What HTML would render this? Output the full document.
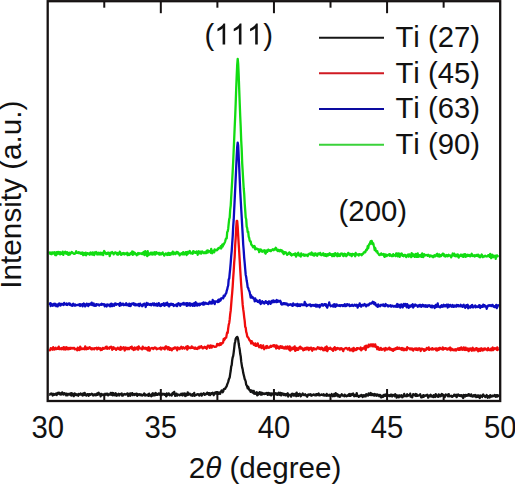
<!DOCTYPE html>
<html><head><meta charset="utf-8"><style>
html,body{margin:0;padding:0;background:#fff;}
body{width:515px;height:484px;overflow:hidden;}
svg{display:block;font-family:"Liberation Sans",sans-serif;font-kerning:none;}
text{font-size:29.3px;fill:#111;}
</style></head><body>
<svg width="515" height="484" viewBox="0 0 515 484">
<rect x="0" y="0" width="515" height="484" fill="#fff"/>
<polyline points="49.2,394.4 49.7,394.6 50.2,394.1 50.7,393.6 51.2,394.0 51.7,393.5 52.2,394.4 52.7,395.5 53.2,394.0 53.7,393.9 54.2,394.8 54.7,394.7 55.2,394.5 55.7,393.6 56.2,394.4 56.7,395.0 57.2,393.3 57.7,394.0 58.2,392.8 58.7,393.3 59.2,392.8 59.7,394.2 60.2,393.3 60.7,394.6 61.2,394.5 61.7,394.3 62.2,392.3 62.7,394.0 63.2,394.4 63.7,394.5 64.2,393.1 64.7,394.0 65.2,393.6 65.7,393.7 66.2,395.3 66.7,393.7 67.2,394.4 67.7,395.2 68.2,393.9 68.7,394.3 69.2,394.5 69.7,394.5 70.2,393.4 70.7,394.5 71.2,395.6 71.7,393.1 72.2,395.2 72.7,394.6 73.2,393.9 73.7,396.2 74.2,395.1 74.7,393.4 75.2,394.5 75.7,395.0 76.2,394.3 76.7,395.0 77.2,394.4 77.7,395.0 78.2,395.7 78.7,393.9 79.2,394.6 79.7,394.1 80.2,394.6 80.7,393.5 81.2,394.0 81.7,394.3 82.2,395.2 82.7,395.5 83.2,393.4 83.7,393.8 84.2,395.0 84.7,392.8 85.2,394.1 85.7,394.4 86.2,395.6 86.7,395.1 87.2,394.2 87.7,394.2 88.2,394.3 88.7,395.8 89.2,394.1 89.7,394.2 90.2,394.8 90.7,394.4 91.2,394.3 91.7,393.6 92.2,394.5 92.7,394.1 93.2,395.5 93.7,395.1 94.2,394.5 94.7,395.1 95.2,394.2 95.7,395.4 96.2,394.5 96.7,395.0 97.2,393.4 97.7,394.8 98.2,393.1 98.7,392.8 99.2,394.3 99.7,393.8 100.2,394.7 100.7,396.4 101.2,393.8 101.7,394.0 102.2,394.7 102.7,395.0 103.2,394.4 103.7,394.4 104.2,395.1 104.7,395.0 105.2,393.7 105.7,394.5 106.2,394.6 106.7,393.7 107.2,394.8 107.7,393.8 108.2,395.4 108.7,394.7 109.2,394.6 109.7,394.1 110.2,394.5 110.7,392.9 111.2,393.6 111.7,394.9 112.2,392.8 112.7,395.3 113.2,393.1 113.7,395.2 114.2,393.9 114.7,395.2 115.2,394.7 115.7,393.3 116.2,395.6 116.7,395.8 117.2,394.5 117.7,394.4 118.2,394.4 118.7,393.8 119.2,395.5 119.7,394.1 120.2,394.5 120.7,393.9 121.2,394.1 121.7,393.5 122.2,395.7 122.7,394.5 123.2,395.4 123.7,394.6 124.2,394.0 124.7,394.3 125.2,394.1 125.7,394.6 126.2,394.3 126.7,394.4 127.2,393.4 127.7,393.9 128.2,396.0 128.7,394.0 129.2,393.7 129.7,394.9 130.2,395.8 130.7,393.4 131.2,394.4 131.7,394.1 132.2,393.1 132.7,395.2 133.2,394.6 133.7,394.7 134.2,394.0 134.7,395.0 135.2,394.2 135.7,394.5 136.2,393.7 136.7,393.6 137.2,395.8 137.7,394.2 138.2,394.9 138.7,394.6 139.2,394.3 139.7,394.2 140.2,395.2 140.7,394.4 141.2,394.5 141.7,394.7 142.2,395.6 142.7,395.2 143.2,395.0 143.7,394.2 144.2,393.5 144.7,395.4 145.2,395.5 145.7,394.5 146.2,395.1 146.7,395.3 147.2,395.3 147.7,395.4 148.2,394.3 148.7,395.9 149.2,393.6 149.7,395.4 150.2,395.1 150.7,395.4 151.2,396.2 151.7,395.9 152.2,393.7 152.7,393.2 153.2,395.3 153.7,393.8 154.2,394.6 154.7,395.4 155.2,393.3 155.7,392.9 156.2,394.9 156.7,394.7 157.2,394.4 157.7,394.7 158.2,393.9 158.7,393.4 159.2,394.5 159.7,393.8 160.2,393.3 160.7,395.1 161.2,394.6 161.7,395.0 162.2,393.8 162.7,394.1 163.2,393.8 163.7,393.9 164.2,394.8 164.7,394.0 165.2,394.9 165.7,394.9 166.2,396.4 166.7,393.5 167.2,395.4 167.7,394.6 168.2,394.6 168.7,393.4 169.2,394.3 169.7,395.3 170.2,394.6 170.7,394.7 171.2,394.4 171.7,395.6 172.2,394.6 172.7,392.8 173.2,394.0 173.7,393.0 174.2,391.9 174.7,394.2 175.2,395.8 175.7,394.7 176.2,393.6 176.7,393.8 177.2,395.6 177.7,394.7 178.2,394.7 178.7,394.6 179.2,394.6 179.7,395.3 180.2,395.1 180.7,394.8 181.2,393.7 181.7,395.0 182.2,394.0 182.7,395.5 183.2,393.5 183.7,394.5 184.2,394.6 184.7,393.4 185.2,396.0 185.7,395.8 186.2,394.2 186.7,395.2 187.2,394.9 187.7,392.3 188.2,394.8 188.7,394.5 189.2,394.6 189.7,393.6 190.2,394.3 190.7,394.4 191.2,395.5 191.7,394.8 192.2,394.5 192.7,395.8 193.2,394.0 193.7,394.1 194.2,392.9 194.7,395.8 195.2,395.3 195.7,395.2 196.2,395.0 196.7,394.5 197.2,394.6 197.7,394.2 198.2,394.2 198.7,394.4 199.2,395.6 199.7,394.8 200.2,394.3 200.7,393.8 201.2,393.7 201.7,395.6 202.2,394.7 202.7,394.3 203.2,393.9 203.7,393.2 204.2,394.1 204.7,394.9 205.2,393.8 205.7,393.9 206.2,393.9 206.7,394.1 207.2,392.7 207.7,393.8 208.2,393.2 208.7,394.7 209.2,393.2 209.7,394.3 210.2,395.1 210.7,393.5 211.2,393.2 211.7,393.8 212.2,393.6 212.7,392.7 213.2,393.9 213.7,395.2 214.2,393.2 214.7,393.2 215.2,392.4 215.7,393.5 216.2,392.1 216.7,392.1 217.2,394.0 217.7,392.1 218.2,393.6 218.7,393.9 219.2,392.7 219.7,392.8 220.2,393.8 220.7,391.8 221.2,391.3 221.7,390.4 222.2,391.3 222.7,392.2 223.2,391.4 223.7,389.4 224.2,389.0 224.7,388.7 225.2,388.8 225.7,387.6 226.2,387.0 226.7,386.1 227.2,384.4 227.7,383.2 228.2,381.9 228.7,379.9 229.2,378.4 229.7,377.4 230.2,373.9 230.7,370.8 231.2,366.5 231.7,365.2 232.2,360.1 232.7,357.3 233.2,355.8 233.7,352.3 234.2,348.2 234.7,343.6 235.2,341.7 235.7,338.7 236.2,337.8 236.7,338.2 237.2,336.9 237.7,337.7 238.2,339.9 238.7,343.8 239.2,346.9 239.7,349.4 240.2,353.8 240.7,356.2 241.2,361.4 241.7,364.6 242.2,367.7 242.7,369.3 243.2,372.8 243.7,374.8 244.2,376.8 244.7,378.9 245.2,380.0 245.7,381.5 246.2,384.8 246.7,385.3 247.2,386.7 247.7,388.3 248.2,386.8 248.7,388.3 249.2,389.7 249.7,390.4 250.2,390.2 250.7,391.8 251.2,391.4 251.7,390.5 252.2,391.0 252.7,392.7 253.2,392.6 253.7,390.8 254.2,393.7 254.7,393.2 255.2,393.9 255.7,392.6 256.2,392.8 256.7,392.2 257.2,395.4 257.7,393.2 258.2,394.7 258.7,392.9 259.2,393.7 259.7,392.2 260.2,393.3 260.7,394.6 261.2,392.7 261.7,394.7 262.2,394.2 262.7,393.0 263.2,393.5 263.7,393.6 264.2,394.0 264.7,393.6 265.2,393.4 265.7,393.8 266.2,393.3 266.7,393.0 267.2,394.1 267.7,394.9 268.2,392.9 268.7,394.2 269.2,393.6 269.7,393.3 270.2,394.9 270.7,393.7 271.2,395.4 271.7,393.4 272.2,394.4 272.7,393.9 273.2,393.4 273.7,394.5 274.2,393.9 274.7,394.6 275.2,394.0 275.7,393.1 276.2,394.0 276.7,394.1 277.2,394.9 277.7,393.4 278.2,394.1 278.7,392.8 279.2,394.8 279.7,393.4 280.2,392.8 280.7,394.3 281.2,395.4 281.7,393.2 282.2,393.6 282.7,393.9 283.2,393.7 283.7,395.0 284.2,394.0 284.7,394.1 285.2,395.3 285.7,394.1 286.2,395.2 286.7,394.0 287.2,393.8 287.7,393.3 288.2,396.5 288.7,394.6 289.2,395.1 289.7,394.9 290.2,395.1 290.7,395.0 291.2,396.6 291.7,394.1 292.2,393.7 292.7,394.1 293.2,393.9 293.7,395.6 294.2,395.7 294.7,394.2 295.2,393.8 295.7,394.7 296.2,396.2 296.7,392.6 297.2,395.5 297.7,394.1 298.2,395.9 298.7,394.1 299.2,394.8 299.7,393.8 300.2,394.3 300.7,396.3 301.2,395.8 301.7,394.8 302.2,394.4 302.7,393.5 303.2,394.8 303.7,395.1 304.2,395.0 304.7,395.0 305.2,394.2 305.7,395.1 306.2,395.1 306.7,396.2 307.2,396.7 307.7,395.0 308.2,394.5 308.7,395.1 309.2,394.6 309.7,394.5 310.2,395.1 310.7,394.3 311.2,395.7 311.7,395.1 312.2,395.4 312.7,395.0 313.2,394.6 313.7,394.4 314.2,395.0 314.7,394.7 315.2,395.4 315.7,395.2 316.2,394.1 316.7,395.3 317.2,394.1 317.7,394.7 318.2,395.0 318.7,393.5 319.2,395.3 319.7,395.4 320.2,395.1 320.7,394.9 321.2,394.9 321.7,394.4 322.2,395.0 322.7,394.8 323.2,395.3 323.7,394.2 324.2,395.5 324.7,395.4 325.2,395.2 325.7,394.9 326.2,395.7 326.7,393.9 327.2,395.7 327.7,395.5 328.2,395.5 328.7,395.6 329.2,394.7 329.7,395.1 330.2,395.8 330.7,395.7 331.2,395.5 331.7,394.0 332.2,395.8 332.7,396.3 333.2,396.2 333.7,395.5 334.2,394.0 334.7,396.1 335.2,395.2 335.7,393.2 336.2,395.7 336.7,394.1 337.2,394.2 337.7,394.8 338.2,396.4 338.7,395.0 339.2,395.6 339.7,396.8 340.2,396.7 340.7,395.3 341.2,395.1 341.7,394.3 342.2,394.8 342.7,395.7 343.2,395.7 343.7,395.5 344.2,396.2 344.7,394.7 345.2,395.3 345.7,396.0 346.2,395.9 346.7,396.3 347.2,395.7 347.7,395.1 348.2,395.7 348.7,394.5 349.2,394.0 349.7,395.9 350.2,395.3 350.7,395.7 351.2,394.0 351.7,395.1 352.2,394.9 352.7,394.7 353.2,393.5 353.7,395.1 354.2,396.2 354.7,395.7 355.2,394.9 355.7,395.4 356.2,396.1 356.7,393.1 357.2,395.3 357.7,395.9 358.2,396.0 358.7,396.9 359.2,396.4 359.7,395.7 360.2,395.7 360.7,396.1 361.2,394.9 361.7,395.4 362.2,396.1 362.7,397.0 363.2,395.2 363.7,395.3 364.2,395.4 364.7,396.4 365.2,395.2 365.7,396.4 366.2,394.2 366.7,394.8 367.2,394.7 367.7,395.5 368.2,395.6 368.7,393.3 369.2,393.7 369.7,394.7 370.2,393.8 370.7,393.0 371.2,395.2 371.7,394.7 372.2,394.8 372.7,394.0 373.2,395.4 373.7,394.4 374.2,395.6 374.7,394.0 375.2,394.2 375.7,395.2 376.2,394.5 376.7,395.7 377.2,395.5 377.7,394.5 378.2,395.4 378.7,395.1 379.2,396.2 379.7,394.9 380.2,395.1 380.7,396.5 381.2,397.4 381.7,397.2 382.2,395.6 382.7,395.7 383.2,396.8 383.7,395.4 384.2,394.7 384.7,395.6 385.2,395.9 385.7,394.8 386.2,394.1 386.7,394.3 387.2,396.1 387.7,394.9 388.2,395.4 388.7,395.7 389.2,396.1 389.7,395.3 390.2,396.0 390.7,394.8 391.2,395.3 391.7,394.7 392.2,396.5 392.7,395.6 393.2,394.9 393.7,395.3 394.2,395.4 394.7,396.2 395.2,394.2 395.7,394.7 396.2,395.3 396.7,397.7 397.2,396.4 397.7,395.5 398.2,396.2 398.7,397.4 399.2,395.4 399.7,395.3 400.2,396.6 400.7,396.0 401.2,396.2 401.7,395.2 402.2,397.3 402.7,397.1 403.2,396.1 403.7,396.2 404.2,393.9 404.7,396.2 405.2,395.5 405.7,396.0 406.2,396.2 406.7,395.3 407.2,394.2 407.7,396.0 408.2,395.0 408.7,395.4 409.2,395.1 409.7,395.4 410.2,393.7 410.7,396.7 411.2,395.9 411.7,396.6 412.2,397.3 412.7,395.7 413.2,394.1 413.7,394.9 414.2,394.6 414.7,395.2 415.2,395.7 415.7,394.0 416.2,396.0 416.7,394.4 417.2,395.9 417.7,395.6 418.2,395.4 418.7,395.6 419.2,395.2 419.7,395.2 420.2,394.3 420.7,395.7 421.2,397.3 421.7,397.4 422.2,396.8 422.7,396.3 423.2,395.1 423.7,396.9 424.2,395.7 424.7,395.7 425.2,395.5 425.7,395.8 426.2,395.3 426.7,395.6 427.2,394.8 427.7,395.4 428.2,397.7 428.7,395.7 429.2,395.5 429.7,396.2 430.2,396.3 430.7,394.8 431.2,395.6 431.7,396.5 432.2,396.0 432.7,395.8 433.2,397.1 433.7,395.2 434.2,395.8 434.7,395.3 435.2,397.0 435.7,394.1 436.2,395.2 436.7,395.3 437.2,396.3 437.7,396.3 438.2,396.9 438.7,394.4 439.2,396.4 439.7,395.5 440.2,395.2 440.7,396.2 441.2,395.0 441.7,394.0 442.2,395.5 442.7,394.5 443.2,395.2 443.7,396.1 444.2,396.1 444.7,397.1 445.2,395.6 445.7,394.5 446.2,395.1 446.7,395.0 447.2,394.8 447.7,396.2 448.2,395.3 448.7,394.1 449.2,396.4 449.7,395.7 450.2,396.1 450.7,395.9 451.2,396.3 451.7,395.8 452.2,396.9 452.7,396.2 453.2,396.2 453.7,396.2 454.2,394.6 454.7,395.7 455.2,395.6 455.7,396.0 456.2,394.7 456.7,397.2 457.2,395.9 457.7,394.8 458.2,394.4 458.7,395.6 459.2,395.8 459.7,395.2 460.2,395.9 460.7,395.3 461.2,396.3 461.7,395.2 462.2,395.8 462.7,396.7 463.2,398.0 463.7,395.0 464.2,395.5 464.7,395.1 465.2,396.5 465.7,394.9 466.2,395.5 466.7,395.8 467.2,395.0 467.7,395.1 468.2,395.5 468.7,394.1 469.2,394.6 469.7,395.5 470.2,396.0 470.7,395.7 471.2,394.4 471.7,395.5 472.2,396.6 472.7,396.4 473.2,395.8 473.7,395.1 474.2,396.4 474.7,395.4 475.2,394.9 475.7,395.2 476.2,397.1 476.7,396.1 477.2,396.9 477.7,395.5 478.2,396.7 478.7,395.4 479.2,395.8 479.7,398.0 480.2,396.6 480.7,395.5 481.2,395.9 481.7,396.2 482.2,397.0 482.7,395.5 483.2,394.5 483.7,395.7 484.2,395.9 484.7,396.0 485.2,397.1 485.7,396.2 486.2,396.6 486.7,395.0 487.2,396.7 487.7,397.7 488.2,396.6 488.7,396.2 489.2,396.1 489.7,397.5 490.2,395.2 490.7,395.9 491.2,396.4 491.7,396.6 492.2,395.6 492.7,396.2 493.2,395.7 493.7,396.1 494.2,395.9 494.7,395.0 495.2,396.0 495.7,396.7 496.2,395.2 496.7,395.8 497.2,396.5 497.7,395.1 498.2,396.1 498.7,395.1" fill="none" stroke="#141414" stroke-width="2.3" stroke-linejoin="round"/><polyline points="49.2,349.3 49.7,350.3 50.2,350.1 50.7,348.2 51.2,349.0 51.7,348.5 52.2,348.4 52.7,349.7 53.2,347.2 53.7,349.3 54.2,348.3 54.7,349.6 55.2,348.5 55.7,347.8 56.2,348.6 56.7,349.0 57.2,348.4 57.7,348.8 58.2,347.9 58.7,346.6 59.2,349.1 59.7,349.0 60.2,348.5 60.7,348.4 61.2,349.3 61.7,348.0 62.2,347.8 62.7,348.2 63.2,349.4 63.7,347.2 64.2,349.4 64.7,347.8 65.2,347.4 65.7,349.5 66.2,348.3 66.7,347.3 67.2,348.1 67.7,349.2 68.2,349.4 68.7,348.0 69.2,348.7 69.7,349.0 70.2,347.8 70.7,348.7 71.2,348.4 71.7,347.9 72.2,348.0 72.7,348.5 73.2,348.4 73.7,347.9 74.2,348.0 74.7,349.3 75.2,348.6 75.7,349.2 76.2,349.4 76.7,348.9 77.2,350.3 77.7,347.7 78.2,349.1 78.7,348.1 79.2,350.0 79.7,349.9 80.2,346.7 80.7,347.6 81.2,349.0 81.7,349.1 82.2,349.0 82.7,348.4 83.2,348.8 83.7,349.0 84.2,348.3 84.7,349.3 85.2,346.5 85.7,349.0 86.2,347.5 86.7,349.2 87.2,348.2 87.7,347.7 88.2,348.7 88.7,347.6 89.2,347.6 89.7,347.1 90.2,348.4 90.7,348.8 91.2,349.3 91.7,348.3 92.2,349.3 92.7,348.4 93.2,348.3 93.7,348.9 94.2,349.3 94.7,348.1 95.2,348.2 95.7,348.3 96.2,348.5 96.7,347.7 97.2,349.3 97.7,348.1 98.2,348.8 98.7,347.7 99.2,348.7 99.7,348.8 100.2,348.1 100.7,350.2 101.2,348.8 101.7,349.9 102.2,349.3 102.7,347.9 103.2,348.1 103.7,348.8 104.2,348.5 104.7,348.5 105.2,348.2 105.7,346.9 106.2,348.2 106.7,346.6 107.2,348.8 107.7,347.8 108.2,347.8 108.7,348.3 109.2,348.7 109.7,347.2 110.2,347.0 110.7,347.5 111.2,346.7 111.7,347.6 112.2,349.8 112.7,347.5 113.2,349.0 113.7,347.3 114.2,348.7 114.7,348.2 115.2,348.4 115.7,348.9 116.2,349.9 116.7,348.6 117.2,348.6 117.7,347.6 118.2,348.9 118.7,348.2 119.2,349.2 119.7,348.4 120.2,349.9 120.7,346.8 121.2,348.2 121.7,349.2 122.2,348.2 122.7,347.8 123.2,348.2 123.7,347.3 124.2,348.6 124.7,350.5 125.2,349.4 125.7,347.5 126.2,347.7 126.7,348.1 127.2,349.3 127.7,347.8 128.2,347.9 128.7,349.2 129.2,349.2 129.7,348.1 130.2,347.5 130.7,347.1 131.2,347.9 131.7,346.6 132.2,349.1 132.7,347.9 133.2,348.9 133.7,350.0 134.2,349.4 134.7,347.5 135.2,349.2 135.7,349.4 136.2,347.8 136.7,347.6 137.2,348.4 137.7,347.1 138.2,349.7 138.7,346.4 139.2,347.5 139.7,348.2 140.2,348.3 140.7,348.6 141.2,348.7 141.7,348.3 142.2,349.4 142.7,346.6 143.2,348.4 143.7,347.8 144.2,348.6 144.7,348.6 145.2,347.7 145.7,347.9 146.2,349.1 146.7,348.7 147.2,347.9 147.7,350.2 148.2,350.4 148.7,347.2 149.2,348.7 149.7,350.6 150.2,349.1 150.7,348.6 151.2,348.2 151.7,348.0 152.2,348.2 152.7,348.0 153.2,349.1 153.7,348.1 154.2,348.0 154.7,347.4 155.2,348.4 155.7,347.7 156.2,348.3 156.7,349.3 157.2,348.7 157.7,348.8 158.2,348.7 158.7,348.5 159.2,348.3 159.7,348.1 160.2,349.0 160.7,347.5 161.2,349.5 161.7,348.4 162.2,347.8 162.7,348.0 163.2,347.8 163.7,348.5 164.2,347.8 164.7,349.3 165.2,347.7 165.7,346.4 166.2,347.7 166.7,346.7 167.2,348.3 167.7,349.3 168.2,348.9 168.7,347.2 169.2,347.7 169.7,349.9 170.2,348.6 170.7,348.3 171.2,349.2 171.7,350.4 172.2,349.4 172.7,348.4 173.2,348.6 173.7,348.8 174.2,347.8 174.7,347.4 175.2,348.3 175.7,347.5 176.2,348.2 176.7,348.4 177.2,350.3 177.7,347.5 178.2,348.2 178.7,348.1 179.2,348.6 179.7,349.1 180.2,347.8 180.7,347.5 181.2,346.8 181.7,347.4 182.2,348.7 182.7,348.2 183.2,347.3 183.7,347.9 184.2,348.2 184.7,348.6 185.2,347.7 185.7,347.9 186.2,346.6 186.7,347.1 187.2,349.5 187.7,346.2 188.2,347.8 188.7,348.3 189.2,347.8 189.7,347.4 190.2,348.0 190.7,348.0 191.2,347.9 191.7,346.4 192.2,347.9 192.7,347.2 193.2,347.5 193.7,348.1 194.2,348.5 194.7,348.7 195.2,347.5 195.7,348.7 196.2,348.8 196.7,348.8 197.2,349.0 197.7,347.7 198.2,347.6 198.7,348.4 199.2,346.6 199.7,347.9 200.2,347.2 200.7,347.3 201.2,346.1 201.7,346.8 202.2,347.5 202.7,348.3 203.2,348.3 203.7,347.4 204.2,347.2 204.7,346.7 205.2,347.7 205.7,347.1 206.2,347.7 206.7,348.7 207.2,347.1 207.7,345.8 208.2,346.3 208.7,345.7 209.2,345.9 209.7,347.9 210.2,347.0 210.7,345.4 211.2,347.2 211.7,347.6 212.2,346.1 212.7,345.8 213.2,346.0 213.7,346.4 214.2,346.6 214.7,346.9 215.2,346.8 215.7,346.7 216.2,346.7 216.7,345.9 217.2,343.9 217.7,344.9 218.2,345.1 218.7,344.3 219.2,345.2 219.7,343.9 220.2,343.2 220.7,344.9 221.2,343.9 221.7,343.2 222.2,343.4 222.7,343.1 223.2,342.0 223.7,339.0 224.2,339.9 224.7,339.3 225.2,337.9 225.7,337.9 226.2,337.5 226.7,334.6 227.2,332.3 227.7,332.9 228.2,328.4 228.7,324.9 229.2,323.0 229.7,319.4 230.2,314.2 230.7,310.7 231.2,304.3 231.7,298.1 232.2,292.6 232.7,286.2 233.2,277.7 233.7,270.8 234.2,262.4 234.7,256.6 235.2,244.9 235.7,237.8 236.2,227.7 236.7,221.0 237.2,221.0 237.7,226.9 238.2,235.9 238.7,244.1 239.2,252.0 239.7,260.4 240.2,269.4 240.7,277.2 241.2,285.3 241.7,291.5 242.2,298.5 242.7,304.9 243.2,309.2 243.7,312.7 244.2,317.3 244.7,320.9 245.2,326.8 245.7,327.6 246.2,331.8 246.7,333.4 247.2,336.2 247.7,337.1 248.2,337.4 248.7,338.4 249.2,339.6 249.7,340.5 250.2,340.6 250.7,341.6 251.2,343.5 251.7,341.1 252.2,343.2 252.7,342.6 253.2,343.8 253.7,344.7 254.2,344.2 254.7,345.1 255.2,343.3 255.7,345.8 256.2,344.6 256.7,345.8 257.2,345.6 257.7,343.4 258.2,345.1 258.7,346.1 259.2,347.3 259.7,346.4 260.2,346.4 260.7,345.1 261.2,347.6 261.7,348.1 262.2,346.6 262.7,346.5 263.2,345.4 263.7,347.6 264.2,349.2 264.7,347.5 265.2,348.0 265.7,347.4 266.2,346.2 266.7,348.2 267.2,346.0 267.7,346.9 268.2,347.3 268.7,347.8 269.2,347.4 269.7,347.3 270.2,346.3 270.7,345.8 271.2,346.9 271.7,346.2 272.2,345.7 272.7,345.7 273.2,346.3 273.7,345.2 274.2,345.6 274.7,345.3 275.2,346.9 275.7,347.1 276.2,348.5 276.7,345.5 277.2,346.3 277.7,347.7 278.2,346.8 278.7,346.7 279.2,348.6 279.7,346.9 280.2,346.3 280.7,346.2 281.2,347.7 281.7,347.8 282.2,346.5 282.7,346.9 283.2,348.2 283.7,348.4 284.2,347.4 284.7,348.5 285.2,348.5 285.7,346.6 286.2,347.9 286.7,348.6 287.2,347.8 287.7,346.5 288.2,348.1 288.7,349.0 289.2,349.7 289.7,346.5 290.2,350.6 290.7,347.4 291.2,349.2 291.7,349.5 292.2,349.3 292.7,348.6 293.2,347.5 293.7,349.0 294.2,347.9 294.7,346.4 295.2,350.9 295.7,349.1 296.2,350.1 296.7,347.8 297.2,349.8 297.7,349.9 298.2,349.9 298.7,348.5 299.2,347.5 299.7,348.4 300.2,346.7 300.7,347.1 301.2,348.7 301.7,347.8 302.2,348.5 302.7,348.5 303.2,350.3 303.7,349.7 304.2,348.6 304.7,349.7 305.2,348.0 305.7,348.4 306.2,349.4 306.7,347.6 307.2,348.4 307.7,347.6 308.2,348.8 308.7,350.1 309.2,348.1 309.7,348.9 310.2,347.9 310.7,347.7 311.2,347.7 311.7,349.9 312.2,350.7 312.7,349.1 313.2,348.1 313.7,349.3 314.2,348.5 314.7,349.4 315.2,349.0 315.7,349.0 316.2,349.3 316.7,348.3 317.2,348.4 317.7,347.3 318.2,348.4 318.7,347.6 319.2,348.7 319.7,348.0 320.2,348.9 320.7,349.2 321.2,347.6 321.7,348.1 322.2,348.0 322.7,349.4 323.2,350.3 323.7,349.5 324.2,348.5 324.7,350.1 325.2,347.5 325.7,350.1 326.2,348.3 326.7,346.5 327.2,351.1 327.7,350.2 328.2,348.0 328.7,349.0 329.2,348.7 329.7,348.9 330.2,347.6 330.7,348.3 331.2,349.2 331.7,349.0 332.2,349.9 332.7,348.9 333.2,350.9 333.7,348.2 334.2,349.1 334.7,347.2 335.2,347.8 335.7,350.0 336.2,348.1 336.7,349.3 337.2,348.8 337.7,348.0 338.2,348.6 338.7,348.4 339.2,348.5 339.7,349.5 340.2,349.4 340.7,348.4 341.2,348.1 341.7,349.1 342.2,348.8 342.7,349.8 343.2,351.1 343.7,349.6 344.2,348.9 344.7,348.7 345.2,348.2 345.7,348.1 346.2,348.0 346.7,348.6 347.2,348.5 347.7,349.5 348.2,348.6 348.7,348.7 349.2,347.9 349.7,350.3 350.2,349.3 350.7,350.4 351.2,349.6 351.7,350.2 352.2,348.7 352.7,349.5 353.2,351.2 353.7,347.8 354.2,349.9 354.7,350.3 355.2,349.2 355.7,349.5 356.2,350.0 356.7,348.3 357.2,349.2 357.7,348.1 358.2,348.3 358.7,348.3 359.2,348.7 359.7,348.9 360.2,349.2 360.7,347.5 361.2,350.4 361.7,349.6 362.2,349.2 362.7,348.2 363.2,348.3 363.7,348.7 364.2,348.4 364.7,346.4 365.2,348.3 365.7,350.0 366.2,345.6 366.7,347.7 367.2,346.9 367.7,346.1 368.2,347.1 368.7,344.6 369.2,345.5 369.7,346.4 370.2,344.7 370.7,344.4 371.2,344.8 371.7,344.4 372.2,346.3 372.7,344.3 373.2,346.1 373.7,344.5 374.2,346.5 374.7,346.2 375.2,344.3 375.7,346.9 376.2,346.3 376.7,347.1 377.2,349.1 377.7,347.0 378.2,347.2 378.7,349.5 379.2,348.5 379.7,349.9 380.2,348.9 380.7,347.9 381.2,348.7 381.7,349.9 382.2,349.7 382.7,348.9 383.2,348.9 383.7,348.8 384.2,348.4 384.7,350.6 385.2,349.0 385.7,348.0 386.2,348.6 386.7,349.6 387.2,349.6 387.7,348.9 388.2,348.4 388.7,349.0 389.2,347.6 389.7,347.9 390.2,349.7 390.7,348.6 391.2,349.4 391.7,350.1 392.2,349.6 392.7,349.1 393.2,350.9 393.7,349.6 394.2,348.8 394.7,349.7 395.2,349.4 395.7,348.3 396.2,349.1 396.7,348.9 397.2,347.4 397.7,348.9 398.2,348.8 398.7,348.7 399.2,347.7 399.7,348.8 400.2,349.1 400.7,349.2 401.2,348.1 401.7,349.7 402.2,348.0 402.7,348.9 403.2,350.2 403.7,348.5 404.2,348.7 404.7,350.1 405.2,348.8 405.7,348.9 406.2,349.3 406.7,350.0 407.2,347.2 407.7,348.4 408.2,348.2 408.7,348.2 409.2,348.4 409.7,348.4 410.2,349.4 410.7,348.4 411.2,349.2 411.7,349.5 412.2,348.5 412.7,349.3 413.2,350.6 413.7,349.4 414.2,348.6 414.7,349.1 415.2,348.4 415.7,349.4 416.2,349.9 416.7,348.4 417.2,349.0 417.7,350.1 418.2,348.7 418.7,349.3 419.2,348.3 419.7,348.5 420.2,348.7 420.7,351.0 421.2,348.8 421.7,348.7 422.2,348.7 422.7,349.0 423.2,349.7 423.7,349.3 424.2,350.9 424.7,349.4 425.2,350.4 425.7,349.4 426.2,349.7 426.7,348.0 427.2,349.1 427.7,349.1 428.2,349.0 428.7,347.4 429.2,349.9 429.7,348.9 430.2,348.8 430.7,349.0 431.2,349.0 431.7,349.6 432.2,348.1 432.7,348.4 433.2,349.5 433.7,349.3 434.2,348.9 434.7,348.7 435.2,348.5 435.7,349.2 436.2,350.2 436.7,348.3 437.2,350.5 437.7,349.9 438.2,348.8 438.7,349.9 439.2,348.0 439.7,347.8 440.2,348.1 440.7,348.9 441.2,349.0 441.7,348.8 442.2,349.3 442.7,347.4 443.2,349.7 443.7,348.0 444.2,348.7 444.7,348.9 445.2,348.3 445.7,348.1 446.2,348.4 446.7,349.2 447.2,349.7 447.7,349.7 448.2,348.4 448.7,348.6 449.2,348.5 449.7,349.6 450.2,347.5 450.7,350.3 451.2,348.8 451.7,348.6 452.2,349.5 452.7,350.1 453.2,349.6 453.7,350.2 454.2,349.4 454.7,350.3 455.2,350.3 455.7,349.2 456.2,350.5 456.7,349.4 457.2,349.3 457.7,348.5 458.2,349.0 458.7,349.9 459.2,348.2 459.7,349.8 460.2,349.6 460.7,349.5 461.2,347.4 461.7,349.2 462.2,349.8 462.7,348.6 463.2,349.4 463.7,347.3 464.2,349.9 464.7,348.7 465.2,350.0 465.7,347.7 466.2,349.9 466.7,349.1 467.2,350.0 467.7,348.5 468.2,348.8 468.7,351.2 469.2,348.6 469.7,348.7 470.2,349.1 470.7,348.4 471.2,350.3 471.7,350.8 472.2,348.7 472.7,347.8 473.2,350.3 473.7,350.3 474.2,350.0 474.7,350.3 475.2,348.6 475.7,349.2 476.2,348.1 476.7,348.1 477.2,350.2 477.7,348.8 478.2,351.3 478.7,349.4 479.2,348.8 479.7,350.0 480.2,350.9 480.7,349.7 481.2,348.3 481.7,349.7 482.2,350.5 482.7,348.9 483.2,348.7 483.7,350.2 484.2,349.5 484.7,348.4 485.2,349.0 485.7,348.7 486.2,349.6 486.7,349.4 487.2,350.3 487.7,350.0 488.2,348.0 488.7,349.7 489.2,350.1 489.7,349.7 490.2,350.2 490.7,348.9 491.2,348.6 491.7,350.2 492.2,348.5 492.7,347.5 493.2,350.2 493.7,348.7 494.2,349.1 494.7,348.2 495.2,348.2 495.7,348.4 496.2,349.1 496.7,349.7 497.2,347.4 497.7,350.0 498.2,348.4 498.7,348.5" fill="none" stroke="#f00c0c" stroke-width="2.3" stroke-linejoin="round"/><polyline points="49.2,305.0 49.7,304.4 50.2,303.1 50.7,306.0 51.2,303.7 51.7,304.7 52.2,304.6 52.7,305.7 53.2,304.1 53.7,305.3 54.2,303.8 54.7,305.4 55.2,303.8 55.7,304.2 56.2,306.1 56.7,304.7 57.2,304.6 57.7,306.4 58.2,304.8 58.7,303.8 59.2,305.1 59.7,303.5 60.2,305.4 60.7,305.5 61.2,304.0 61.7,304.0 62.2,304.6 62.7,304.5 63.2,303.7 63.7,305.0 64.2,302.8 64.7,304.1 65.2,304.2 65.7,304.3 66.2,304.8 66.7,303.5 67.2,305.0 67.7,304.4 68.2,304.0 68.7,303.4 69.2,303.5 69.7,304.8 70.2,303.7 70.7,304.6 71.2,305.4 71.7,305.4 72.2,305.8 72.7,304.3 73.2,303.6 73.7,305.4 74.2,304.8 74.7,305.5 75.2,304.5 75.7,305.5 76.2,305.3 76.7,305.1 77.2,305.0 77.7,304.9 78.2,304.7 78.7,304.7 79.2,305.4 79.7,304.1 80.2,306.0 80.7,304.5 81.2,305.4 81.7,304.5 82.2,304.3 82.7,306.3 83.2,304.3 83.7,303.5 84.2,304.0 84.7,304.3 85.2,306.4 85.7,304.7 86.2,305.4 86.7,303.7 87.2,304.9 87.7,305.1 88.2,306.1 88.7,304.0 89.2,305.1 89.7,304.8 90.2,303.7 90.7,304.6 91.2,304.4 91.7,302.6 92.2,305.1 92.7,305.0 93.2,304.2 93.7,303.4 94.2,305.8 94.7,304.8 95.2,305.5 95.7,305.8 96.2,304.1 96.7,305.3 97.2,304.4 97.7,304.5 98.2,304.5 98.7,304.6 99.2,305.5 99.7,304.7 100.2,304.5 100.7,304.4 101.2,304.9 101.7,303.8 102.2,304.2 102.7,304.6 103.2,304.1 103.7,304.5 104.2,304.1 104.7,306.3 105.2,305.7 105.7,305.0 106.2,304.6 106.7,306.5 107.2,304.9 107.7,304.5 108.2,304.9 108.7,304.9 109.2,305.8 109.7,304.6 110.2,306.4 110.7,303.9 111.2,305.2 111.7,303.8 112.2,306.2 112.7,304.3 113.2,304.6 113.7,305.4 114.2,305.7 114.7,303.7 115.2,304.3 115.7,303.4 116.2,304.8 116.7,304.5 117.2,304.3 117.7,304.1 118.2,304.3 118.7,304.0 119.2,305.1 119.7,305.9 120.2,303.0 120.7,304.5 121.2,304.3 121.7,305.1 122.2,303.8 122.7,304.5 123.2,303.8 123.7,305.2 124.2,304.7 124.7,304.5 125.2,305.0 125.7,304.4 126.2,303.3 126.7,305.2 127.2,304.9 127.7,304.5 128.2,305.5 128.7,305.7 129.2,303.7 129.7,304.0 130.2,306.0 130.7,305.9 131.2,304.0 131.7,303.7 132.2,304.1 132.7,304.2 133.2,303.3 133.7,304.7 134.2,303.6 134.7,303.6 135.2,305.4 135.7,304.1 136.2,304.6 136.7,305.2 137.2,305.3 137.7,304.4 138.2,304.7 138.7,304.0 139.2,306.1 139.7,305.2 140.2,303.7 140.7,304.7 141.2,305.3 141.7,305.1 142.2,306.2 142.7,305.8 143.2,304.2 143.7,304.6 144.2,303.6 144.7,304.9 145.2,304.8 145.7,307.0 146.2,304.7 146.7,302.9 147.2,304.1 147.7,304.8 148.2,303.6 148.7,303.9 149.2,304.3 149.7,304.9 150.2,304.5 150.7,303.9 151.2,305.3 151.7,304.2 152.2,304.2 152.7,303.5 153.2,304.0 153.7,305.2 154.2,303.3 154.7,304.6 155.2,305.3 155.7,304.3 156.2,304.8 156.7,303.7 157.2,305.8 157.7,305.6 158.2,304.8 158.7,303.1 159.2,303.7 159.7,305.5 160.2,306.1 160.7,304.9 161.2,305.7 161.7,304.1 162.2,304.5 162.7,304.6 163.2,305.0 163.7,303.3 164.2,305.4 164.7,305.7 165.2,303.6 165.7,303.4 166.2,304.9 166.7,304.0 167.2,302.6 167.7,305.3 168.2,304.7 168.7,304.2 169.2,306.4 169.7,304.7 170.2,303.9 170.7,304.7 171.2,303.7 171.7,303.9 172.2,304.9 172.7,304.1 173.2,304.2 173.7,306.0 174.2,305.3 174.7,305.2 175.2,305.0 175.7,304.9 176.2,305.8 176.7,304.5 177.2,306.1 177.7,303.7 178.2,304.3 178.7,303.3 179.2,304.2 179.7,304.9 180.2,305.7 180.7,303.9 181.2,304.5 181.7,304.1 182.2,303.8 182.7,303.4 183.2,304.5 183.7,302.9 184.2,304.5 184.7,304.4 185.2,303.8 185.7,303.5 186.2,303.2 186.7,305.9 187.2,303.2 187.7,305.6 188.2,304.8 188.7,304.0 189.2,303.3 189.7,305.2 190.2,305.7 190.7,303.5 191.2,304.0 191.7,305.1 192.2,304.5 192.7,305.9 193.2,303.7 193.7,304.6 194.2,303.1 194.7,305.9 195.2,303.5 195.7,302.2 196.2,303.9 196.7,303.9 197.2,305.6 197.7,303.7 198.2,303.9 198.7,304.4 199.2,305.2 199.7,303.8 200.2,304.7 200.7,304.2 201.2,303.5 201.7,303.8 202.2,303.7 202.7,302.9 203.2,304.7 203.7,302.4 204.2,304.5 204.7,304.3 205.2,303.4 205.7,302.8 206.2,303.2 206.7,303.7 207.2,303.9 207.7,303.4 208.2,304.0 208.7,302.6 209.2,303.2 209.7,301.6 210.2,303.5 210.7,302.9 211.2,302.3 211.7,303.6 212.2,303.1 212.7,300.0 213.2,302.3 213.7,301.0 214.2,303.0 214.7,304.1 215.2,301.4 215.7,301.7 216.2,301.3 216.7,301.6 217.2,301.7 217.7,302.1 218.2,299.9 218.7,301.9 219.2,299.5 219.7,300.3 220.2,300.8 220.7,300.1 221.2,298.4 221.7,298.2 222.2,298.0 222.7,297.9 223.2,298.4 223.7,295.7 224.2,296.5 224.7,295.9 225.2,294.9 225.7,293.7 226.2,293.3 226.7,290.9 227.2,289.4 227.7,287.0 228.2,285.5 228.7,279.4 229.2,278.6 229.7,273.3 230.2,268.6 230.7,262.8 231.2,256.1 231.7,250.8 232.2,243.3 232.7,236.4 233.2,226.3 233.7,219.7 234.2,209.3 234.7,199.1 235.2,188.6 235.7,178.1 236.2,167.0 236.7,156.4 237.2,147.0 237.7,142.6 238.2,145.8 238.7,156.6 239.2,167.2 239.7,178.9 240.2,190.8 240.7,199.8 241.2,208.8 241.7,217.2 242.2,226.3 242.7,234.6 243.2,244.5 243.7,250.5 244.2,257.8 244.7,263.1 245.2,269.0 245.7,274.7 246.2,277.0 246.7,280.8 247.2,283.4 247.7,287.3 248.2,287.9 248.7,289.6 249.2,290.9 249.7,292.2 250.2,294.9 250.7,297.6 251.2,295.4 251.7,297.7 252.2,297.7 252.7,297.1 253.2,298.3 253.7,298.7 254.2,298.7 254.7,301.3 255.2,298.3 255.7,300.5 256.2,300.8 256.7,300.2 257.2,301.1 257.7,301.9 258.2,301.5 258.7,301.9 259.2,302.3 259.7,300.1 260.2,303.2 260.7,304.0 261.2,303.1 261.7,303.2 262.2,301.2 262.7,302.4 263.2,301.9 263.7,302.2 264.2,303.6 264.7,302.1 265.2,302.7 265.7,301.2 266.2,302.7 266.7,302.9 267.2,302.2 267.7,302.1 268.2,304.2 268.7,301.5 269.2,301.5 269.7,301.6 270.2,303.1 270.7,303.8 271.2,302.1 271.7,301.0 272.2,301.1 272.7,302.2 273.2,300.4 273.7,302.2 274.2,302.1 274.7,300.9 275.2,301.3 275.7,301.4 276.2,302.1 276.7,300.0 277.2,302.0 277.7,300.8 278.2,300.6 278.7,301.5 279.2,301.5 279.7,301.1 280.2,300.8 280.7,301.6 281.2,303.9 281.7,304.5 282.2,303.6 282.7,304.3 283.2,303.1 283.7,303.6 284.2,304.1 284.7,303.1 285.2,303.3 285.7,304.3 286.2,304.1 286.7,303.5 287.2,304.8 287.7,304.3 288.2,305.5 288.7,304.6 289.2,304.4 289.7,304.8 290.2,304.6 290.7,304.2 291.2,304.4 291.7,305.4 292.2,305.4 292.7,305.9 293.2,303.4 293.7,304.5 294.2,304.5 294.7,305.0 295.2,304.5 295.7,304.5 296.2,305.6 296.7,305.1 297.2,303.9 297.7,306.1 298.2,305.8 298.7,304.5 299.2,305.7 299.7,304.4 300.2,306.0 300.7,304.8 301.2,304.3 301.7,304.7 302.2,304.4 302.7,305.2 303.2,305.2 303.7,305.1 304.2,304.6 304.7,302.0 305.2,305.2 305.7,303.5 306.2,305.3 306.7,306.1 307.2,305.3 307.7,304.8 308.2,305.0 308.7,305.0 309.2,304.7 309.7,304.6 310.2,304.4 310.7,306.2 311.2,305.1 311.7,306.0 312.2,305.0 312.7,305.2 313.2,305.0 313.7,305.6 314.2,305.9 314.7,305.4 315.2,304.6 315.7,304.6 316.2,306.6 316.7,305.0 317.2,305.0 317.7,306.5 318.2,306.2 318.7,305.7 319.2,304.9 319.7,307.3 320.2,305.6 320.7,305.7 321.2,305.1 321.7,304.1 322.2,304.1 322.7,305.6 323.2,305.6 323.7,305.1 324.2,304.3 324.7,304.1 325.2,305.0 325.7,304.1 326.2,306.1 326.7,306.3 327.2,307.7 327.7,306.1 328.2,304.8 328.7,304.6 329.2,302.4 329.7,304.8 330.2,305.2 330.7,306.2 331.2,305.9 331.7,305.9 332.2,305.5 332.7,305.9 333.2,306.6 333.7,304.5 334.2,305.0 334.7,304.2 335.2,306.8 335.7,306.5 336.2,306.0 336.7,304.4 337.2,305.5 337.7,305.2 338.2,305.5 338.7,305.3 339.2,305.9 339.7,305.1 340.2,306.1 340.7,305.6 341.2,305.2 341.7,305.3 342.2,305.1 342.7,306.1 343.2,305.2 343.7,305.7 344.2,305.1 344.7,304.2 345.2,306.2 345.7,304.6 346.2,306.0 346.7,305.8 347.2,304.1 347.7,304.7 348.2,305.0 348.7,304.8 349.2,304.5 349.7,306.1 350.2,305.3 350.7,305.8 351.2,305.1 351.7,305.7 352.2,304.8 352.7,305.5 353.2,306.0 353.7,305.5 354.2,305.1 354.7,304.6 355.2,305.6 355.7,305.8 356.2,305.3 356.7,304.8 357.2,305.9 357.7,307.6 358.2,305.2 358.7,305.8 359.2,305.8 359.7,303.3 360.2,305.6 360.7,304.9 361.2,306.6 361.7,305.2 362.2,304.7 362.7,305.2 363.2,305.5 363.7,304.8 364.2,305.2 364.7,304.0 365.2,304.8 365.7,305.5 366.2,306.4 366.7,305.2 367.2,304.6 367.7,305.2 368.2,304.9 368.7,305.2 369.2,304.5 369.7,303.4 370.2,303.5 370.7,303.4 371.2,303.5 371.7,303.4 372.2,302.7 372.7,301.7 373.2,303.1 373.7,302.1 374.2,304.1 374.7,304.2 375.2,303.0 375.7,305.2 376.2,305.5 376.7,305.0 377.2,306.5 377.7,306.8 378.2,304.3 378.7,306.2 379.2,305.8 379.7,305.8 380.2,306.3 380.7,304.9 381.2,305.0 381.7,304.9 382.2,304.9 382.7,305.5 383.2,304.4 383.7,304.7 384.2,306.1 384.7,305.6 385.2,306.0 385.7,304.0 386.2,305.0 386.7,305.2 387.2,305.7 387.7,305.2 388.2,306.5 388.7,305.6 389.2,305.7 389.7,305.7 390.2,306.3 390.7,305.3 391.2,306.6 391.7,306.1 392.2,305.8 392.7,305.7 393.2,306.1 393.7,306.6 394.2,306.5 394.7,306.0 395.2,306.5 395.7,305.8 396.2,306.8 396.7,305.7 397.2,304.0 397.7,306.9 398.2,305.8 398.7,304.7 399.2,305.6 399.7,305.0 400.2,307.5 400.7,306.2 401.2,304.4 401.7,306.2 402.2,305.4 402.7,307.4 403.2,304.9 403.7,303.9 404.2,305.8 404.7,305.5 405.2,305.4 405.7,304.0 406.2,306.1 406.7,307.2 407.2,304.2 407.7,306.8 408.2,305.3 408.7,307.8 409.2,306.2 409.7,305.6 410.2,306.7 410.7,306.2 411.2,305.3 411.7,306.4 412.2,305.4 412.7,304.3 413.2,307.5 413.7,305.5 414.2,305.3 414.7,306.1 415.2,304.5 415.7,304.7 416.2,305.4 416.7,305.4 417.2,305.9 417.7,306.8 418.2,305.4 418.7,306.3 419.2,306.4 419.7,304.9 420.2,306.0 420.7,305.0 421.2,306.8 421.7,306.2 422.2,305.9 422.7,304.7 423.2,306.0 423.7,305.2 424.2,306.5 424.7,305.8 425.2,305.2 425.7,306.7 426.2,306.5 426.7,305.4 427.2,306.9 427.7,305.6 428.2,305.6 428.7,306.0 429.2,305.2 429.7,305.5 430.2,305.8 430.7,307.2 431.2,307.2 431.7,305.7 432.2,307.3 432.7,305.9 433.2,306.2 433.7,306.7 434.2,306.2 434.7,308.0 435.2,306.1 435.7,304.9 436.2,307.0 436.7,305.6 437.2,305.7 437.7,303.4 438.2,306.8 438.7,306.6 439.2,306.6 439.7,306.8 440.2,307.4 440.7,305.9 441.2,306.7 441.7,305.3 442.2,305.6 442.7,306.8 443.2,306.3 443.7,304.8 444.2,306.3 444.7,305.8 445.2,305.3 445.7,306.3 446.2,305.6 446.7,304.6 447.2,305.0 447.7,307.5 448.2,304.7 448.7,306.2 449.2,306.5 449.7,306.5 450.2,304.9 450.7,305.7 451.2,306.1 451.7,306.7 452.2,305.4 452.7,305.0 453.2,306.8 453.7,306.9 454.2,306.3 454.7,305.5 455.2,306.3 455.7,306.1 456.2,306.7 456.7,304.9 457.2,306.1 457.7,305.9 458.2,305.1 458.7,306.2 459.2,306.0 459.7,305.7 460.2,306.4 460.7,304.8 461.2,306.0 461.7,306.4 462.2,306.3 462.7,306.9 463.2,305.0 463.7,304.8 464.2,306.2 464.7,306.4 465.2,307.8 465.7,306.6 466.2,305.3 466.7,306.7 467.2,305.3 467.7,304.8 468.2,308.3 468.7,306.3 469.2,306.7 469.7,306.5 470.2,307.6 470.7,306.3 471.2,307.1 471.7,305.2 472.2,304.9 472.7,307.3 473.2,307.3 473.7,306.5 474.2,306.3 474.7,306.2 475.2,305.5 475.7,307.4 476.2,306.6 476.7,306.5 477.2,306.4 477.7,307.0 478.2,306.5 478.7,306.7 479.2,305.1 479.7,306.5 480.2,308.0 480.7,305.7 481.2,306.0 481.7,306.9 482.2,306.9 482.7,306.6 483.2,304.7 483.7,306.5 484.2,305.1 484.7,305.4 485.2,306.6 485.7,305.9 486.2,306.8 486.7,308.8 487.2,306.8 487.7,306.7 488.2,305.4 488.7,305.6 489.2,305.2 489.7,305.7 490.2,305.2 490.7,305.6 491.2,306.0 491.7,305.3 492.2,304.9 492.7,305.0 493.2,306.5 493.7,306.2 494.2,307.0 494.7,307.0 495.2,305.9 495.7,306.7 496.2,304.9 496.7,308.1 497.2,307.2 497.7,306.0 498.2,305.2 498.7,306.5" fill="none" stroke="#0c0cc0" stroke-width="2.3" stroke-linejoin="round"/><polyline points="49.2,251.5 49.7,252.5 50.2,254.0 50.7,253.3 51.2,252.8 51.7,254.2 52.2,252.3 52.7,253.5 53.2,252.8 53.7,252.5 54.2,253.7 54.7,252.3 55.2,255.1 55.7,252.7 56.2,255.2 56.7,252.2 57.2,253.9 57.7,252.1 58.2,252.0 58.7,253.4 59.2,253.9 59.7,252.1 60.2,254.4 60.7,252.5 61.2,253.4 61.7,253.7 62.2,253.9 62.7,251.6 63.2,254.9 63.7,253.8 64.2,252.9 64.7,252.3 65.2,251.7 65.7,252.0 66.2,253.8 66.7,253.0 67.2,252.3 67.7,252.8 68.2,254.8 68.7,253.0 69.2,252.8 69.7,254.6 70.2,253.8 70.7,253.4 71.2,252.8 71.7,251.9 72.2,252.2 72.7,252.9 73.2,253.2 73.7,253.7 74.2,253.9 74.7,253.6 75.2,253.6 75.7,252.4 76.2,251.3 76.7,252.9 77.2,252.5 77.7,252.8 78.2,253.1 78.7,252.2 79.2,252.3 79.7,253.3 80.2,253.5 80.7,252.8 81.2,253.9 81.7,253.2 82.2,252.4 82.7,253.4 83.2,255.2 83.7,252.8 84.2,254.5 84.7,254.7 85.2,254.8 85.7,252.6 86.2,255.3 86.7,253.5 87.2,253.2 87.7,253.2 88.2,254.0 88.7,253.5 89.2,253.3 89.7,254.7 90.2,252.8 90.7,252.5 91.2,254.2 91.7,254.1 92.2,254.5 92.7,252.4 93.2,254.5 93.7,253.9 94.2,255.1 94.7,252.3 95.2,253.7 95.7,253.2 96.2,252.0 96.7,252.8 97.2,254.5 97.7,253.0 98.2,252.8 98.7,254.3 99.2,254.4 99.7,254.4 100.2,252.7 100.7,253.4 101.2,254.5 101.7,252.9 102.2,252.8 102.7,254.3 103.2,255.0 103.7,252.4 104.2,251.0 104.7,252.1 105.2,252.6 105.7,253.4 106.2,254.1 106.7,253.4 107.2,252.9 107.7,253.7 108.2,252.6 108.7,253.5 109.2,252.9 109.7,256.1 110.2,254.3 110.7,252.7 111.2,252.6 111.7,253.1 112.2,252.0 112.7,252.8 113.2,252.8 113.7,254.4 114.2,253.1 114.7,252.8 115.2,252.3 115.7,252.4 116.2,253.5 116.7,253.4 117.2,254.6 117.7,253.0 118.2,254.6 118.7,253.8 119.2,253.6 119.7,251.7 120.2,252.3 120.7,254.3 121.2,254.9 121.7,253.8 122.2,254.3 122.7,253.2 123.2,253.2 123.7,253.0 124.2,254.5 124.7,253.9 125.2,253.4 125.7,253.3 126.2,254.1 126.7,253.9 127.2,252.8 127.7,255.2 128.2,253.8 128.7,253.6 129.2,255.0 129.7,254.6 130.2,253.5 130.7,254.1 131.2,252.6 131.7,253.0 132.2,251.5 132.7,254.8 133.2,251.8 133.7,254.3 134.2,252.8 134.7,252.7 135.2,253.4 135.7,253.9 136.2,254.2 136.7,255.3 137.2,254.0 137.7,254.5 138.2,253.0 138.7,254.3 139.2,253.8 139.7,253.2 140.2,253.5 140.7,253.6 141.2,253.8 141.7,254.0 142.2,253.1 142.7,252.9 143.2,254.3 143.7,252.0 144.2,253.0 144.7,255.1 145.2,251.1 145.7,253.0 146.2,254.3 146.7,252.1 147.2,256.1 147.7,251.2 148.2,255.0 148.7,255.1 149.2,254.5 149.7,253.4 150.2,254.0 150.7,252.8 151.2,254.4 151.7,252.6 152.2,253.4 152.7,254.6 153.2,252.6 153.7,253.3 154.2,253.8 154.7,252.3 155.2,254.7 155.7,253.9 156.2,252.2 156.7,253.6 157.2,252.9 157.7,253.0 158.2,253.7 158.7,252.9 159.2,254.5 159.7,252.9 160.2,254.5 160.7,253.6 161.2,254.4 161.7,253.1 162.2,253.1 162.7,252.5 163.2,254.1 163.7,254.5 164.2,255.6 164.7,254.8 165.2,253.8 165.7,253.4 166.2,254.0 166.7,253.6 167.2,255.0 167.7,254.5 168.2,252.8 168.7,252.9 169.2,254.9 169.7,253.9 170.2,253.3 170.7,254.7 171.2,253.2 171.7,253.3 172.2,253.1 172.7,251.7 173.2,254.3 173.7,252.4 174.2,253.0 174.7,252.8 175.2,254.2 175.7,253.4 176.2,253.5 176.7,251.9 177.2,253.4 177.7,252.1 178.2,253.8 178.7,253.8 179.2,253.4 179.7,255.4 180.2,253.9 180.7,254.0 181.2,253.6 181.7,253.2 182.2,254.3 182.7,254.4 183.2,252.1 183.7,254.4 184.2,253.9 184.7,254.3 185.2,253.8 185.7,252.1 186.2,252.2 186.7,255.0 187.2,253.5 187.7,251.9 188.2,253.6 188.7,252.9 189.2,251.5 189.7,251.0 190.2,251.7 190.7,253.4 191.2,253.1 191.7,252.9 192.2,253.4 192.7,253.7 193.2,251.1 193.7,252.8 194.2,252.3 194.7,251.8 195.2,252.5 195.7,252.9 196.2,252.7 196.7,251.5 197.2,252.4 197.7,254.8 198.2,251.8 198.7,251.2 199.2,253.0 199.7,253.3 200.2,253.1 200.7,251.6 201.2,253.6 201.7,251.8 202.2,251.5 202.7,251.9 203.2,252.3 203.7,253.1 204.2,252.9 204.7,252.3 205.2,253.1 205.7,252.3 206.2,253.0 206.7,250.7 207.2,250.5 207.7,252.7 208.2,250.5 208.7,251.5 209.2,251.6 209.7,251.1 210.2,251.1 210.7,252.7 211.2,248.9 211.7,252.0 212.2,253.3 212.7,251.0 213.2,250.8 213.7,251.4 214.2,252.3 214.7,249.3 215.2,250.3 215.7,249.9 216.2,250.4 216.7,249.8 217.2,250.1 217.7,248.8 218.2,249.0 218.7,248.1 219.2,247.8 219.7,248.0 220.2,247.7 220.7,246.3 221.2,248.5 221.7,246.4 222.2,244.8 222.7,246.6 223.2,244.2 223.7,244.6 224.2,243.3 224.7,242.6 225.2,241.3 225.7,239.3 226.2,238.3 226.7,238.3 227.2,232.0 227.7,231.5 228.2,228.7 228.7,223.7 229.2,219.1 229.7,217.6 230.2,209.6 230.7,205.6 231.2,197.0 231.7,188.6 232.2,180.3 232.7,171.0 233.2,161.4 233.7,150.0 234.2,138.5 234.7,126.9 235.2,116.0 235.7,103.1 236.2,88.5 236.7,75.7 237.2,64.9 237.7,58.8 238.2,64.2 238.7,75.4 239.2,89.2 239.7,102.8 240.2,115.7 240.7,126.8 241.2,140.4 241.7,149.6 242.2,163.4 242.7,171.5 243.2,180.4 243.7,188.2 244.2,193.9 244.7,203.5 245.2,210.2 245.7,217.5 246.2,219.2 246.7,226.6 247.2,228.2 247.7,232.2 248.2,231.8 248.7,236.6 249.2,238.0 249.7,240.6 250.2,241.4 250.7,241.4 251.2,244.4 251.7,245.0 252.2,245.6 252.7,246.6 253.2,247.3 253.7,246.7 254.2,245.9 254.7,246.3 255.2,249.3 255.7,249.0 256.2,248.8 256.7,248.5 257.2,249.2 257.7,249.5 258.2,249.4 258.7,249.2 259.2,252.2 259.7,250.5 260.2,249.9 260.7,249.4 261.2,250.0 261.7,251.5 262.2,251.7 262.7,250.8 263.2,251.2 263.7,250.9 264.2,250.2 264.7,252.5 265.2,251.6 265.7,253.6 266.2,250.5 266.7,251.0 267.2,251.9 267.7,250.8 268.2,249.6 268.7,249.9 269.2,250.7 269.7,250.8 270.2,250.2 270.7,251.1 271.2,250.9 271.7,250.2 272.2,249.7 272.7,249.3 273.2,250.0 273.7,250.2 274.2,249.3 274.7,249.6 275.2,248.9 275.7,247.8 276.2,248.3 276.7,250.0 277.2,249.8 277.7,251.0 278.2,249.7 278.7,250.7 279.2,251.3 279.7,251.2 280.2,249.9 280.7,250.6 281.2,251.1 281.7,250.3 282.2,251.9 282.7,252.7 283.2,251.5 283.7,254.1 284.2,252.1 284.7,252.4 285.2,252.5 285.7,252.3 286.2,253.5 286.7,253.2 287.2,254.9 287.7,254.0 288.2,254.1 288.7,253.4 289.2,252.4 289.7,253.7 290.2,253.0 290.7,254.8 291.2,253.9 291.7,255.5 292.2,254.7 292.7,254.8 293.2,254.2 293.7,254.2 294.2,254.7 294.7,255.0 295.2,253.4 295.7,254.6 296.2,256.6 296.7,254.1 297.2,253.9 297.7,253.5 298.2,252.8 298.7,255.3 299.2,254.3 299.7,254.5 300.2,256.0 300.7,256.6 301.2,253.4 301.7,255.3 302.2,254.9 302.7,254.7 303.2,254.8 303.7,254.3 304.2,255.8 304.7,254.9 305.2,254.7 305.7,255.5 306.2,255.2 306.7,254.8 307.2,254.7 307.7,256.1 308.2,254.9 308.7,254.3 309.2,253.6 309.7,254.1 310.2,253.4 310.7,254.6 311.2,254.7 311.7,252.5 312.2,254.5 312.7,255.1 313.2,254.6 313.7,253.6 314.2,255.7 314.7,253.8 315.2,253.4 315.7,253.5 316.2,254.5 316.7,255.5 317.2,255.7 317.7,254.8 318.2,253.4 318.7,253.9 319.2,253.7 319.7,254.4 320.2,252.9 320.7,254.7 321.2,255.2 321.7,254.5 322.2,255.0 322.7,253.7 323.2,253.2 323.7,254.0 324.2,255.7 324.7,255.6 325.2,254.2 325.7,255.8 326.2,254.3 326.7,256.1 327.2,255.1 327.7,254.2 328.2,255.4 328.7,253.9 329.2,253.8 329.7,253.3 330.2,254.9 330.7,254.6 331.2,254.6 331.7,254.3 332.2,256.1 332.7,254.3 333.2,254.0 333.7,255.9 334.2,256.1 334.7,255.1 335.2,253.1 335.7,254.2 336.2,255.3 336.7,254.8 337.2,256.2 337.7,253.5 338.2,255.4 338.7,254.2 339.2,256.0 339.7,254.7 340.2,255.7 340.7,254.2 341.2,253.4 341.7,253.7 342.2,254.2 342.7,253.8 343.2,255.9 343.7,256.1 344.2,255.0 344.7,253.8 345.2,254.7 345.7,254.1 346.2,256.2 346.7,255.1 347.2,255.2 347.7,254.4 348.2,252.9 348.7,254.0 349.2,253.7 349.7,255.1 350.2,254.9 350.7,254.0 351.2,254.4 351.7,256.2 352.2,253.8 352.7,253.9 353.2,254.5 353.7,254.1 354.2,254.3 354.7,255.2 355.2,256.3 355.7,253.0 356.2,254.7 356.7,254.7 357.2,254.6 357.7,254.4 358.2,254.3 358.7,255.5 359.2,254.1 359.7,254.4 360.2,254.4 360.7,254.5 361.2,254.1 361.7,255.2 362.2,254.1 362.7,254.1 363.2,253.7 363.7,252.5 364.2,252.3 364.7,251.7 365.2,252.4 365.7,250.9 366.2,249.8 366.7,250.1 367.2,249.4 367.7,246.1 368.2,248.2 368.7,245.4 369.2,244.1 369.7,244.2 370.2,242.4 370.7,241.2 371.2,243.7 371.7,240.8 372.2,242.3 372.7,244.0 373.2,243.3 373.7,245.3 374.2,247.0 374.7,250.1 375.2,248.1 375.7,249.9 376.2,251.5 376.7,251.7 377.2,251.1 377.7,253.2 378.2,253.3 378.7,254.0 379.2,254.9 379.7,255.0 380.2,254.6 380.7,254.7 381.2,253.4 381.7,254.4 382.2,254.8 382.7,254.3 383.2,254.8 383.7,254.0 384.2,256.3 384.7,256.9 385.2,254.5 385.7,255.3 386.2,254.7 386.7,256.1 387.2,255.4 387.7,255.0 388.2,254.8 388.7,255.1 389.2,254.1 389.7,255.7 390.2,254.4 390.7,255.6 391.2,255.2 391.7,256.1 392.2,255.1 392.7,256.1 393.2,254.2 393.7,255.7 394.2,254.9 394.7,255.3 395.2,255.2 395.7,256.1 396.2,253.3 396.7,255.5 397.2,253.8 397.7,256.3 398.2,253.3 398.7,254.3 399.2,253.6 399.7,256.8 400.2,254.0 400.7,255.4 401.2,254.7 401.7,253.5 402.2,254.9 402.7,255.9 403.2,255.1 403.7,256.2 404.2,254.9 404.7,255.3 405.2,254.9 405.7,255.6 406.2,257.1 406.7,255.7 407.2,255.5 407.7,254.7 408.2,254.6 408.7,256.7 409.2,254.3 409.7,254.5 410.2,255.3 410.7,254.9 411.2,257.2 411.7,253.1 412.2,255.7 412.7,256.0 413.2,254.3 413.7,254.8 414.2,255.8 414.7,256.9 415.2,254.5 415.7,253.9 416.2,256.3 416.7,256.9 417.2,255.1 417.7,253.3 418.2,256.8 418.7,255.2 419.2,256.5 419.7,255.4 420.2,255.1 420.7,255.0 421.2,256.8 421.7,256.8 422.2,253.4 422.7,254.6 423.2,257.1 423.7,255.1 424.2,254.2 424.7,255.5 425.2,255.4 425.7,255.4 426.2,255.0 426.7,255.2 427.2,255.1 427.7,255.8 428.2,254.7 428.7,255.2 429.2,255.4 429.7,256.7 430.2,255.9 430.7,255.4 431.2,256.0 431.7,255.9 432.2,256.6 432.7,256.0 433.2,257.2 433.7,256.8 434.2,255.5 434.7,255.1 435.2,256.4 435.7,256.0 436.2,255.5 436.7,254.2 437.2,253.8 437.7,255.9 438.2,256.3 438.7,256.3 439.2,254.4 439.7,256.6 440.2,255.1 440.7,256.0 441.2,256.0 441.7,254.8 442.2,255.0 442.7,253.6 443.2,254.7 443.7,253.9 444.2,256.0 444.7,255.7 445.2,256.5 445.7,256.0 446.2,255.0 446.7,256.0 447.2,255.3 447.7,256.2 448.2,255.9 448.7,254.7 449.2,255.6 449.7,255.7 450.2,255.4 450.7,256.5 451.2,257.3 451.7,255.3 452.2,255.3 452.7,253.5 453.2,255.5 453.7,255.3 454.2,253.6 454.7,256.0 455.2,256.2 455.7,255.0 456.2,255.3 456.7,254.8 457.2,256.4 457.7,254.3 458.2,255.4 458.7,257.6 459.2,255.8 459.7,256.2 460.2,255.6 460.7,254.6 461.2,255.7 461.7,256.1 462.2,254.8 462.7,256.1 463.2,256.9 463.7,256.8 464.2,254.2 464.7,254.8 465.2,254.2 465.7,256.8 466.2,256.3 466.7,256.4 467.2,254.9 467.7,254.7 468.2,255.8 468.7,255.9 469.2,255.0 469.7,255.9 470.2,256.4 470.7,256.0 471.2,254.8 471.7,253.8 472.2,255.5 472.7,256.0 473.2,255.6 473.7,255.4 474.2,255.2 474.7,256.5 475.2,255.8 475.7,255.9 476.2,254.9 476.7,255.2 477.2,256.0 477.7,254.9 478.2,254.6 478.7,255.5 479.2,257.0 479.7,256.0 480.2,257.2 480.7,255.7 481.2,255.6 481.7,254.5 482.2,255.3 482.7,257.2 483.2,256.2 483.7,256.6 484.2,256.5 484.7,255.9 485.2,255.7 485.7,256.0 486.2,256.5 486.7,256.3 487.2,256.4 487.7,256.0 488.2,255.2 488.7,255.7 489.2,255.0 489.7,256.9 490.2,253.9 490.7,255.7 491.2,258.2 491.7,255.6 492.2,254.8 492.7,255.9 493.2,257.2 493.7,255.8 494.2,256.5 494.7,256.0 495.2,255.6 495.7,258.9 496.2,256.0 496.7,255.4 497.2,255.5 497.7,256.3 498.2,256.3 498.7,256.7" fill="none" stroke="#12dc12" stroke-width="2.3" stroke-linejoin="round"/>
<g stroke="#161212" stroke-width="2"><line x1="104.26" y1="1.2" x2="104.26" y2="7.7"/><line x1="104.26" y1="401.0" x2="104.26" y2="394.5"/><line x1="160.82" y1="1.2" x2="160.82" y2="13.2"/><line x1="160.82" y1="401.0" x2="160.82" y2="389.0"/><line x1="217.39" y1="1.2" x2="217.39" y2="7.7"/><line x1="217.39" y1="401.0" x2="217.39" y2="394.5"/><line x1="273.95" y1="1.2" x2="273.95" y2="13.2"/><line x1="273.95" y1="401.0" x2="273.95" y2="389.0"/><line x1="330.51" y1="1.2" x2="330.51" y2="7.7"/><line x1="330.51" y1="401.0" x2="330.51" y2="394.5"/><line x1="387.07" y1="1.2" x2="387.07" y2="13.2"/><line x1="387.07" y1="401.0" x2="387.07" y2="389.0"/><line x1="443.64" y1="1.2" x2="443.64" y2="7.7"/><line x1="443.64" y1="401.0" x2="443.64" y2="394.5"/></g>
<rect x="47.7" y="1.2" width="452.50" height="399.80" fill="none" stroke="#161212" stroke-width="2.3"/>
<text transform="translate(47.70,438.2) scale(1,1.08)" text-anchor="middle">30</text><text transform="translate(160.82,438.2) scale(1,1.08)" text-anchor="middle">35</text><text transform="translate(273.95,438.2) scale(1,1.08)" text-anchor="middle">40</text><text transform="translate(387.07,438.2) scale(1,1.08)" text-anchor="middle">45</text><text transform="translate(500.20,438.2) scale(1,1.08)" text-anchor="middle">50</text>
<line x1="319" y1="37.7" x2="384" y2="37.7" stroke="#161616" stroke-width="2"/><text transform="translate(395.4,47.0) scale(1,1.035)">Ti (27)</text><line x1="319" y1="73.3" x2="384" y2="73.3" stroke="#d01a22" stroke-width="2"/><text transform="translate(395.4,82.6) scale(1,1.035)">Ti (45)</text><line x1="319" y1="109.1" x2="384" y2="109.1" stroke="#0c0ca0" stroke-width="2"/><text transform="translate(395.4,118.4) scale(1,1.035)">Ti (63)</text><line x1="319" y1="144.8" x2="384" y2="144.8" stroke="#3ad23a" stroke-width="2"/><text transform="translate(395.4,154.1) scale(1,1.035)">Ti (90)</text>
<text x="204.50" y="44.6">(</text><path transform="translate(214.26,44.6) scale(0.01431,-0.01431)" d="M763 0H583V1147Q518 1085 412.5 1023Q307 961 223 930V1104Q374 1175 487 1276Q600 1377 647 1472H763Z" fill="#111"/><path transform="translate(230.55,44.6) scale(0.01431,-0.01431)" d="M763 0H583V1147Q518 1085 412.5 1023Q307 961 223 930V1104Q374 1175 487 1276Q600 1377 647 1472H763Z" fill="#111"/><path transform="translate(246.85,44.6) scale(0.01431,-0.01431)" d="M763 0H583V1147Q518 1085 412.5 1023Q307 961 223 930V1104Q374 1175 487 1276Q600 1377 647 1472H763Z" fill="#111"/><text x="263.14" y="44.6">)</text>
<text x="372.8" y="220.7" text-anchor="middle">(200)</text>
<text x="265" y="477.5" text-anchor="middle" style="font-size:29.6px">2<tspan font-style="italic">θ</tspan> (degree)</text>
<text transform="translate(20.9,194.6) rotate(-90)" text-anchor="middle" style="font-size:29.7px">Intensity (a.u.)</text>
</svg>
</body></html>
